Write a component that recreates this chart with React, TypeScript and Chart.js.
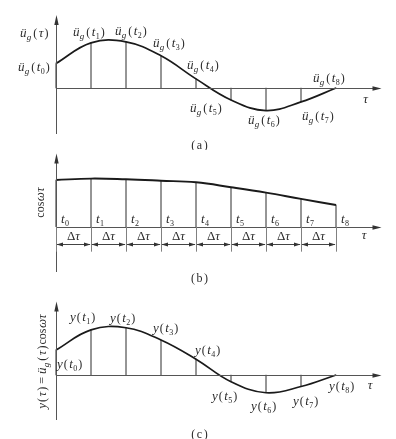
import React, { useEffect, useRef } from "react";
import { Chart, registerables } from "chart.js";
Chart.register(...registerables);

// ---------------- data ----------------
const stepIndex = [0, 1, 2, 3, 4, 5, 6, 7, 8];
const stepSubscripts = ["0", "1", "2", "3", "4", "5", "6", "7", "8"];
// (a) ground acceleration ü_g(τ) at t0..t8
const groundAccel = [0.51, 0.94, 0.96, 0.67, 0.19, -0.25, -0.47, -0.29, 0];
// (b) cos ωτ at t0..t8
const cosineValues = [1.0, 1.03, 1.015, 0.985, 0.95, 0.845, 0.73, 0.595, 0.465];
// (c) y(τ) = ü_g(τ) cos ωτ at t0..t8
const productValues = [0.52, 0.94, 0.985, 0.73, 0.33, -0.14, -0.37, -0.24, 0];
const panelCaptions = ["a", "b", "c"];

// ---------------- layout / style ----------------
const W = 396;
const X_MIN = -1.6;
const X_MAX = 9.714;
const X_AXIS_END = 9.3;
const FONT_FAMILY = '"Liberation Serif", "DejaVu Serif", serif';
const TEXT_COLOR = "#2a2a2a";
const AXIS_COLOR = "#555";
const CURVE_COLOR = "#1a1a1a";
const ORD_COLOR = "#808080";

type Seg = { t: string; it?: boolean; s?: number; dy?: number; gap?: number };

function segFont(s: Seg) {
  return `${s.it ? "italic " : ""}${s.s ?? 13}px ${FONT_FAMILY}`;
}
function segsWidth(ctx: CanvasRenderingContext2D, segs: Seg[]) {
  let w = 0;
  for (const s of segs) {
    ctx.font = segFont(s);
    w += ctx.measureText(s.t).width + (s.gap ?? 0);
  }
  return w;
}
function drawSegs(ctx: CanvasRenderingContext2D, x: number, yMid: number, segs: Seg[], align: "left" | "center" = "left") {
  const w = segsWidth(ctx, segs);
  let cx = align === "center" ? x - w / 2 : x;
  ctx.textBaseline = "alphabetic";
  ctx.textAlign = "left";
  ctx.fillStyle = TEXT_COLOR;
  const base = yMid + 4;
  for (const s of segs) {
    ctx.font = segFont(s);
    ctx.fillText(s.t, cx, base + (s.dy ?? 0));
    cx += ctx.measureText(s.t).width + (s.gap ?? 0);
  }
}
function drawVertical(ctx: CanvasRenderingContext2D, cx: number, cy: number, segs: Seg[]) {
  ctx.save();
  ctx.translate(cx, cy);
  ctx.rotate(-Math.PI / 2);
  drawSegs(ctx, 0, 0, segs, "center");
  ctx.restore();
}

const P = (c: string, gap = 1.5): Seg => ({ t: c, s: 12, gap });
const sub = (d: string): Seg => ({ t: d, s: 8, dy: 3, gap: 1 });
const tArg = (d: string): Seg[] => [{ t: "t", it: true, s: 13, gap: 0.3 }, sub(d)];
const tauArg: Seg[] = [{ t: "τ", it: true, s: 13, gap: 1 }];
const ugSegs = (arg: Seg[]): Seg[] => [
  { t: "ü", it: true, s: 13, gap: 0.3 },
  { t: "g", it: true, s: 9, dy: 3, gap: 2 },
  P("("),
  ...arg,
  P(")", 0),
];
const ySegs = (arg: Seg[]): Seg[] => [{ t: "y", it: true, s: 13, gap: 1 }, P("("), ...arg, P(")", 0)];
const cosSegs: Seg[] = [
  { t: "cos", s: 12, gap: 0.5 },
  { t: "ωτ", it: true, s: 13 },
];

type Panel = {
  top: number;
  height: number;
  values: number[];
  yMin: number;
  yMax: number;
  axisTop: number;
  axisBottom: number;
  curveWidth: number;
  captionY: number;
  tauDy: number;
  tauX: number;
  labelDx?: number[];
  labelDy?: number[];
  labelSegs?: (i: number) => Seg[];
  extra?: (ctx: CanvasRenderingContext2D, xs: any, ys: any) => void;
};

function line(ctx: CanvasRenderingContext2D, x1: number, y1: number, x2: number, y2: number) {
  ctx.beginPath();
  ctx.moveTo(x1, y1);
  ctx.lineTo(x2, y2);
  ctx.stroke();
}
function tri(ctx: CanvasRenderingContext2D, pts: number[][]) {
  ctx.beginPath();
  ctx.moveTo(pts[0][0], pts[0][1]);
  ctx.lineTo(pts[1][0], pts[1][1]);
  ctx.lineTo(pts[2][0], pts[2][1]);
  ctx.closePath();
  ctx.fill();
}

const panels: Panel[] = [
  {
    top: 0,
    height: 150,
    values: groundAccel,
    yMin: -1.2917,
    yMax: 1.8333,
    axisTop: 15,
    axisBottom: 134,
    curveWidth: 1.7,
    captionY: 144.5,
    tauDy: 10,
    tauX: 365.5,
    labelDx: [-38, -18, -11, -8, -9, -41, -18, 1, -23],
    labelDy: [3, -11, -11, -12.5, -14, 8, 9, 14, -10],
    labelSegs: (i) => ugSegs(tArg(stepSubscripts[i])),
    extra: (ctx) => {
      drawSegs(ctx, 20, 33, ugSegs(tauArg));
    },
  },
  {
    top: 150,
    height: 135,
    values: cosineValues,
    yMin: -1.249,
    yMax: 1.642,
    axisTop: 3.5,
    axisBottom: 122,
    curveWidth: 1.9,
    captionY: 128,
    tauDy: 7.5,
    tauX: 364,
    extra: (ctx, xs, ys) => {
      const yb = ys.getPixelForValue(0);
      ctx.strokeStyle = ORD_COLOR;
      ctx.fillStyle = AXIS_COLOR;
      ctx.lineWidth = 1;
      // extension lines below axis
      for (const t of stepIndex) {
        const x = Math.round(xs.getPixelForValue(t)) + 0.5;
        line(ctx, x, yb, x, yb + 25);
      }
      // Δτ dimension arrows
      const ya = Math.round(yb + 17) + 0.5;
      for (let i = 0; i < stepIndex.length - 1; i++) {
        const x1 = xs.getPixelForValue(stepIndex[i]);
        const x2 = xs.getPixelForValue(stepIndex[i + 1]);
        ctx.strokeStyle = "#444";
        line(ctx, x1 + 1, ya, x2 - 1, ya);
        ctx.fillStyle = "#333";
        tri(ctx, [[x1 + 0.5, ya], [x1 + 7, ya - 2], [x1 + 7, ya + 2]]);
        tri(ctx, [[x2 - 0.5, ya], [x2 - 7, ya - 2], [x2 - 7, ya + 2]]);
        drawSegs(ctx, (x1 + x2) / 2, yb + 9.5, [{ t: "Δ", s: 13 }, { t: "τ", it: true, s: 13 }], "center");
      }
      // t_i labels
      for (const t of stepIndex) {
        const x = xs.getPixelForValue(t);
        drawSegs(ctx, x + 5, yb - 7.5, tArg(stepSubscripts[t]));
      }
      drawVertical(ctx, 40, 52.5, cosSegs);
    },
  },
  {
    top: 285,
    height: 154,
    values: productValues,
    yMin: -1.3333,
    yMax: 1.875,
    axisTop: 16.5,
    axisBottom: 135,
    curveWidth: 1.7,
    captionY: 149,
    tauDy: 9,
    tauX: 370,
    labelDx: [1, -21, -16, -8, -1, -19, -15, -8, -7],
    labelDy: [14, -12.6, -10, -12.3, -9, 14, 13, 14.5, 11],
    labelSegs: (i) => ySegs(tArg(stepSubscripts[i])),
    extra: (ctx) => {
      drawVertical(ctx, 41.5, 76.5, [
        ...ySegs(tauArg),
        { t: " = ", s: 12 },
        ...ugSegs(tauArg),
        { t: "", gap: 1 },
        ...cosSegs,
      ]);
    },
  },
];

function makePlugin(panel: Panel, caption: string) {
  return {
    id: "diagram",
    afterDatasetsDraw(chart: any) {
      const ctx: CanvasRenderingContext2D = chart.ctx;
      const xs = chart.scales.x;
      const ys = chart.scales.y;
      const x0 = Math.round(xs.getPixelForValue(0)) + 0.5;
      const yb = Math.round(ys.getPixelForValue(0)) + 0.5;
      const xEnd = xs.getPixelForValue(X_AXIS_END);
      ctx.save();
      ctx.strokeStyle = AXIS_COLOR;
      ctx.fillStyle = "#333";
      ctx.lineWidth = 1;
      // y axis with arrow
      line(ctx, x0, panel.axisTop + 4, x0, panel.axisBottom);
      tri(ctx, [[x0, panel.axisTop], [x0 - 2.2, panel.axisTop + 10], [x0 + 2.2, panel.axisTop + 10]]);
      // x axis with arrow
      line(ctx, x0, yb, xEnd - 4, yb);
      tri(ctx, [[xEnd, yb], [xEnd - 9, yb - 2.2], [xEnd - 9, yb + 2.2]]);
      // τ label
      drawSegs(ctx, panel.tauX, yb + panel.tauDy, [{ t: "τ", it: true, s: 13 }], "center");
      // value labels
      if (panel.labelSegs && panel.labelDx && panel.labelDy) {
        stepIndex.forEach((t, i) => {
          const px = xs.getPixelForValue(t) + panel.labelDx![i];
          const py = ys.getPixelForValue(panel.values[i]) + panel.labelDy![i];
          drawSegs(ctx, px, py, panel.labelSegs!(i));
        });
      }
      panel.extra && panel.extra(ctx, xs, ys);
      // caption
      drawSegs(ctx, W / 2 + 1.5, panel.captionY, [P("("), { t: caption, s: 12, gap: 1.5 }, P(")", 0)], "center");
      ctx.restore();
    },
  };
}

function PanelChart({ panel, caption }: { panel: Panel; caption: string }) {
  const ref = useRef<HTMLCanvasElement>(null);
  useEffect(() => {
    const pts = stepIndex.map((t, i) => ({ x: t, y: panel.values[i] }));
    const chart = new Chart(ref.current!, {
      type: "line",
      data: {
        datasets: [
          {
            type: "line",
            data: pts,
            borderColor: CURVE_COLOR,
            borderWidth: panel.curveWidth,
            tension: 0.4,
            pointRadius: 0,
            fill: false,
            order: 0,
          } as any,
          {
            type: "bar",
            data: pts,
            backgroundColor: ORD_COLOR,
            borderWidth: 0,
            barThickness: 1,
            order: 1,
          } as any,
        ],
      },
      options: {
        animation: false,
        responsive: false,
        maintainAspectRatio: false,
        layout: { padding: 0 },
        events: [],
        plugins: { legend: { display: false }, tooltip: { enabled: false } },
        scales: {
          x: { type: "linear", min: X_MIN, max: X_MAX, offset: false, display: false },
          y: { type: "linear", min: panel.yMin, max: panel.yMax, display: false },
        },
      },
      plugins: [makePlugin(panel, caption)],
    });
    return () => chart.destroy();
  }, []);
  return (
    <canvas
      ref={ref}
      width={W}
      height={panel.height}
      style={{ position: "absolute", left: 0, top: panel.top, width: W, height: panel.height }}
    />
  );
}

export default function App() {
  return (
    <div style={{ position: "fixed", left: 0, top: 0, width: W, height: 439, background: "#fff" }}>
      {panels.map((p, i) => (
        <PanelChart key={i} panel={p} caption={panelCaptions[i]} />
      ))}
    </div>
  );
}
